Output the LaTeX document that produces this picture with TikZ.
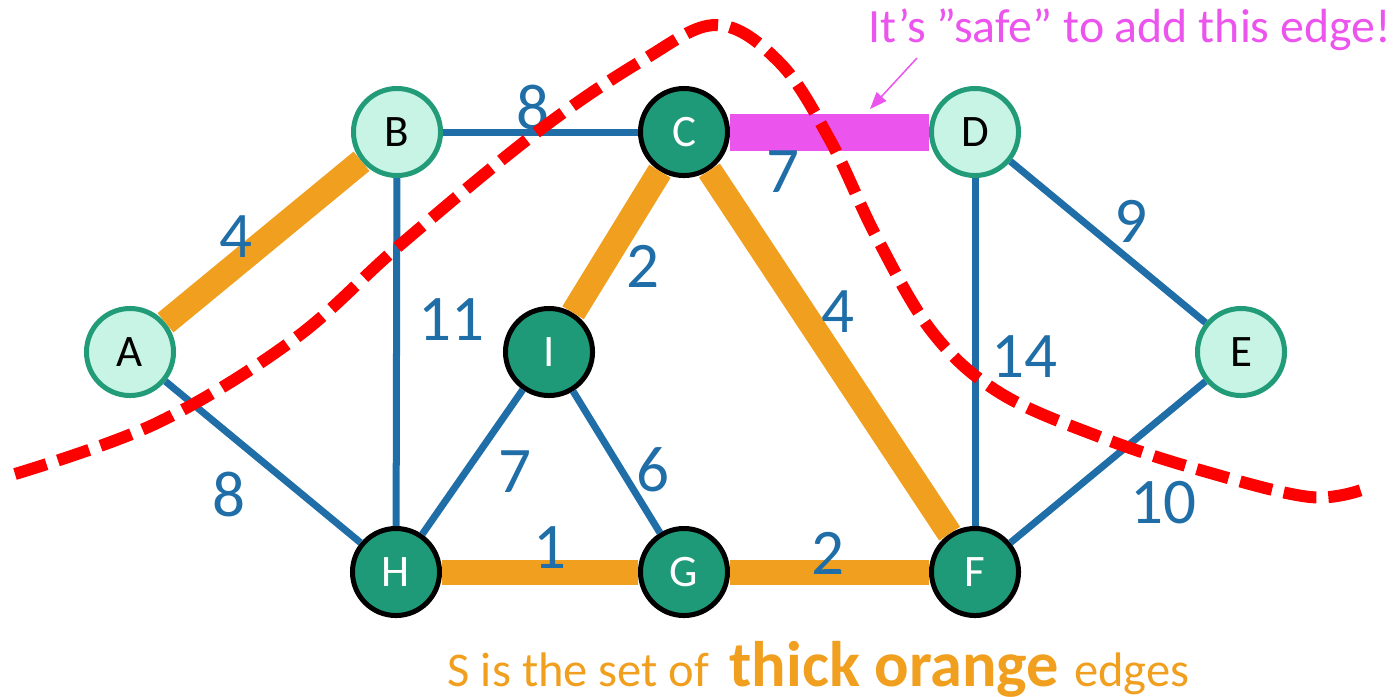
\documentclass[tikz,border=0pt]{standalone}
\usepackage{fontspec}
\setmainfont{Carlito}
\usetikzlibrary{arrows.meta}
\definecolor{edgeblue}{HTML}{1F6EA8}
\definecolor{sorange}{HTML}{F19F1E}
\definecolor{safemag}{HTML}{EB55EE}
\definecolor{lightfill}{HTML}{C8F4E5}
\definecolor{lightrim}{HTML}{229C78}
\definecolor{darkfill}{HTML}{1E9A78}
\definecolor{cutred}{HTML}{FF0000}
\tikzset{
  lightnode/.style={circle, draw=lightrim, fill=lightfill, line width=0.05cm, minimum size=0.87cm, inner sep=0pt, text=black, font=\fontsize{12.8}{14}\selectfont},
  darknode/.style={circle, draw=black, fill=darkfill, line width=0.05cm, minimum size=0.87cm, inner sep=0pt, text=white, font=\fontsize{12.8}{14}\selectfont},
  blueedge/.style={draw=edgeblue, line width=0.07cm},
  orangeedge/.style={draw=sorange, line width=0.25cm},
  safeedge/.style={draw=safemag, line width=0.37cm},
  wlabel/.style={text=edgeblue, font=\fontsize{18.5}{20}\selectfont, inner sep=0pt},
  cutline/.style={draw=cutred, line width=0.12cm, dash pattern=on 0.33cm off 0.12cm},
}
\begin{document}
\begin{tikzpicture}[x=0.01cm,y=-0.01cm]
\useasboundingbox (0,0) rectangle (1397,696);
% nodes
\node[lightnode] (A) at (130,352) {A};
\node[lightnode] (B) at (397,132) {B};
\node[darknode]  (C) at (684,132) {C};
\node[lightnode] (D) at (975,132) {D};
\node[lightnode] (E) at (1241,352) {E};
\node[darknode]  (I) at (549,352) {I};
\node[darknode]  (H) at (396,572) {H};
\node[darknode]  (G) at (684,572) {G};
\node[darknode]  (F) at (975,572) {F};
% edges
\draw[blueedge] (B) -- (C);
\draw[blueedge] (B) -- (H);
\draw[blueedge] (A) -- (H);
\draw[blueedge] (H) -- (I);
\draw[blueedge] (I) -- (G);
\draw[blueedge] (D) -- (F);
\draw[blueedge] (D) -- (E);
\draw[blueedge] (E) -- (F);
\draw[orangeedge] (A) -- (B);
\draw[orangeedge] (C) -- (I);
\draw[orangeedge] (C) -- (F);
\draw[orangeedge] (H) -- (G);
\draw[orangeedge] (G) -- (F);
\draw[safeedge] (C) -- (D);
% weights
\node[wlabel] (wBC) at (533,108) {8};
\node[wlabel] (wCD) at (783,172) {7};
\node[wlabel] (wAB) at (236,237) {4};
\node[wlabel] (wBH) at (451,320) {11};
\node[wlabel] (wCI) at (643,266) {2};
\node[wlabel] (wCF) at (838,312) {4};
\node[wlabel] (wDE) at (1131,221) {9};
\node[wlabel] (wDF) at (1024,357) {14};
\node[wlabel] (wAH) at (229,495) {8};
\node[wlabel] (wHI) at (515,472) {7};
\node[wlabel] (wIG) at (653,470) {6};
\node[wlabel] (wHG) at (550,548) {1};
\node[wlabel] (wGF) at (828,553) {2};
\node[wlabel] (wEF) at (1163,503) {10};
% cut
\draw[cutline] plot[smooth, tension=0.6] coordinates {(15,474) (157,423) (293,340) (400,245) (537,132) (643,60) (717,25) (780,63) (830,140) (877,238) (933,333) (1000,393) (1100,437) (1200,470) (1310,497) (1367,488)};
% annotation
\node[text=safemag, font=\fontsize{13.6}{16}\selectfont, anchor=base west, inner sep=0pt] (note) at (868,42) {It’s ”safe” to add this edge!};
\coordinate (arrstart) at (917,58);
\coordinate (arrend) at (870,109);
\draw[safemag, line width=0.015cm, -{Triangle[length=0.17cm,width=0.13cm]}] (arrstart) -- (arrend);
\node[text=sorange, anchor=base west, inner sep=0pt, font=\fontsize{13.8}{16}\selectfont] (caption) at (447,686) {S is the set of\hspace{0.2cm}{\fontsize{18.3}{20}\selectfont\bfseries thick orange}\hspace{0.04cm} edges};
\end{tikzpicture}
\end{document}
